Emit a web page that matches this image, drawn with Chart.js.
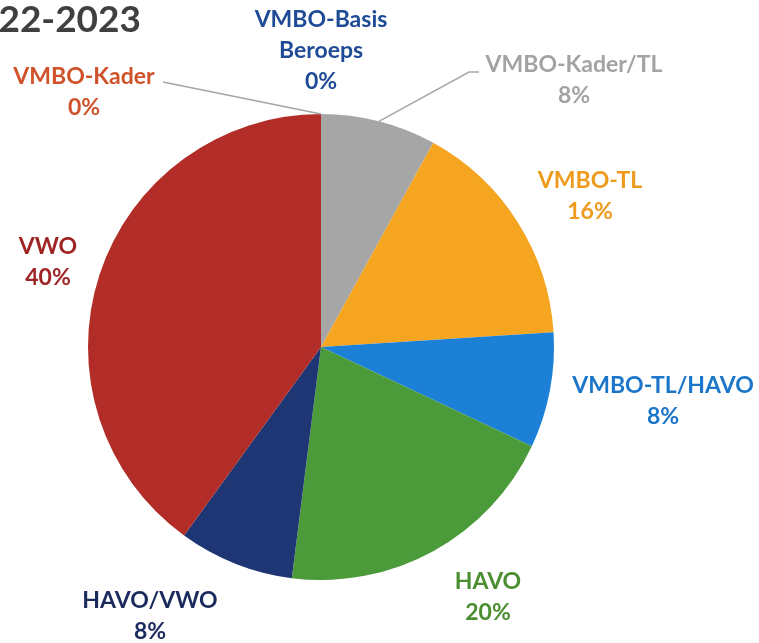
<!DOCTYPE html>
<html>
<head>
<meta charset="utf-8">
<script src="https://cdn.jsdelivr.net/npm/chart.js@4"></script>
<style>
  html, body { margin: 0; padding: 0; background: #fff; }
  #wrap { width: 759px; height: 643px; position: relative; }
</style>
</head>
<body>
<div id="wrap"><canvas id="pieChart" width="759" height="643"></canvas></div>
<script>
// Data (number of pupils per level, 2022-2023)
const categories = ['VMBO-Basis Beroeps', 'VMBO-Kader', 'VMBO-Kader/TL', 'VMBO-TL', 'VMBO-TL/HAVO', 'HAVO', 'HAVO/VWO', 'VWO'];
const counts = [0, 0, 2, 4, 2, 5, 2, 10];

const sliceColors = ['#2E5597', '#D2572B', '#A6A6A6', '#F5A51F', '#1C80D6', '#4C9B3B', '#1E3673', '#B22D27'];
const textColors  = ['#1F4B96', '#D0522A', '#A3A3A3', '#EE9B1C', '#1B76C9', '#4A8E30', '#1B2A5C', '#9F2525'];

// label layout: lines of text, centre x/y of first line, and leader line start points
const labelLayout = [
    { lines: ['VMBO-Basis', 'Beroeps'], x: 321, y: 20, leader: null },
    { lines: ['VMBO-Kader'], x: 84, y: 77, leader: [[163, 82]] },
    { lines: ['VMBO-Kader/TL'], x: 574, y: 65, leader: [[479, 72], [469, 72]] },
    { lines: ['VMBO-TL'], x: 590, y: 181, leader: null },
    { lines: ['VMBO-TL/HAVO'], x: 663, y: 386, leader: null },
    { lines: ['HAVO'], x: 488, y: 582, leader: null },
    { lines: ['HAVO/VWO'], x: 150, y: 601, leader: null },
    { lines: ['VWO'], x: 48, y: 247, leader: null }
];

const total = counts.reduce((a, b) => a + b, 0);

const labelPlugin = {
    id: 'labelPlugin',
    afterDraw(chart) {
        const ctx = chart.ctx;
        const meta = chart.getDatasetMeta(0);
        ctx.save();

        // title, partly cut off at the left edge
        ctx.font = 'bold 37px Lato';
        ctx.fillStyle = '#404040';
        ctx.textAlign = 'right';
        ctx.textBaseline = 'middle';
        ctx.fillText('2022-2023', 141, 20);

        meta.data.forEach((arc, i) => {
            const lay = labelLayout[i];
            const pct = Math.round(counts[i] / total * 100) + '%';
            const lines = lay.lines.concat([pct]);

            if (lay.leader) {
                const mid = (arc.startAngle + arc.endAngle) / 2;
                const ex = arc.x + Math.cos(mid) * arc.outerRadius;
                const ey = arc.y + Math.sin(mid) * arc.outerRadius;
                ctx.strokeStyle = '#A6A6A6';
                ctx.lineWidth = 1.5;
                ctx.beginPath();
                ctx.moveTo(lay.leader[0][0], lay.leader[0][1]);
                lay.leader.slice(1).forEach(p => ctx.lineTo(p[0], p[1]));
                ctx.lineTo(ex, ey);
                ctx.stroke();
            }

            ctx.font = 'bold 23px Lato';
            ctx.fillStyle = textColors[i];
            ctx.textAlign = 'center';
            ctx.textBaseline = 'middle';
            lines.forEach((t, k) => {
                ctx.fillText(t, lay.x, lay.y + k * 31);
            });
        });
        ctx.restore();
    }
};

new Chart(document.getElementById('pieChart'), {
    type: 'pie',
    data: {
        labels: categories,
        datasets: [{
            data: counts,
            backgroundColor: sliceColors,
            borderWidth: 0
        }]
    },
    options: {
        responsive: false,
        animation: false,
        layout: { padding: { top: 114, bottom: 63, left: 88, right: 205 } },
        plugins: {
            legend: { display: false },
            tooltip: { enabled: false }
        }
    },
    plugins: [labelPlugin]
});
</script>
</body>
</html>
